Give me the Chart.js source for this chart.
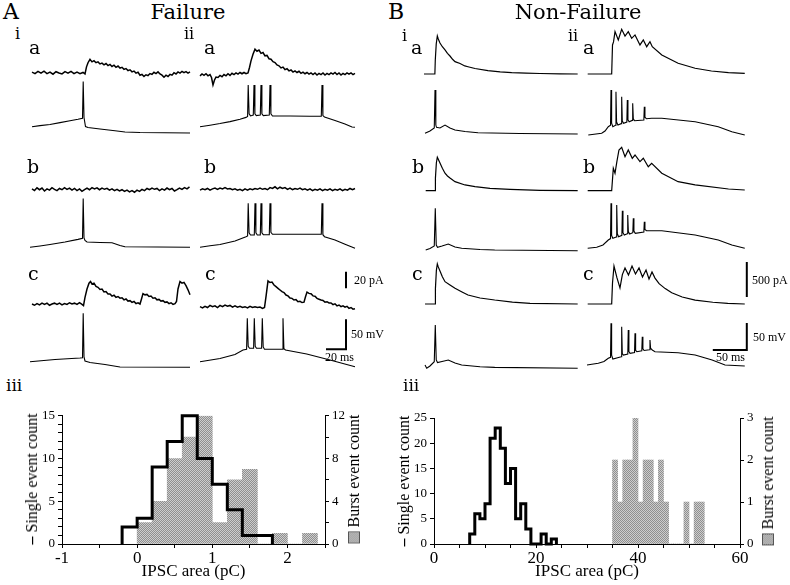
<!DOCTYPE html>
<html>
<head>
<meta charset="utf-8">
<script src="https://cdn.jsdelivr.net/npm/chart.js@4.4.1/dist/chart.umd.min.js"></script>
<style>
  html, body { margin: 0; padding: 0; background: #fff; }
  #fig { position: relative; width: 790px; height: 585px; overflow: hidden; background: #fff; }
  #fig canvas { position: absolute; }
  .lab { position: absolute; font-family: 'DejaVu Serif', serif; line-height: 1; white-space: nowrap; color: #000; }
  .sb { position: absolute; font-family: 'Liberation Serif', serif; font-size: 12px; line-height: 1; white-space: nowrap; color: #000; }
  .ytitle { position: absolute; font-family: 'Liberation Serif', serif; font-size: 16px; line-height: 1; white-space: nowrap; color: #000;
            transform: translate(-50%, -50%) rotate(-90deg); }
  .ytitle b { font-weight: bold; }
  .sq { display: inline-block; width: 10px; height: 10px; border: 1px solid #555; vertical-align: -1px; margin-right: 4px;
        background: repeating-conic-gradient(#8f8f8f 0 25%, #cdcdcd 0 50%) 0 0 / 2px 2px; }
</style>
</head>
<body>
<div id="fig"></div>
<script>
// ---- histogram data (iii) ----
const aBinWidth = 0.2;
const aSingleStart = -0.2;
const aSingleCounts = [2, 3, 9, 12, 15, 10, 7, 4, 1, 1];
const aBurstStart = 0;
const aBurstCounts = [2, 4, 8, 10, 12, 2, 6, 7, 0, 1, 0, 1];

const bBinWidth = 1;
const bSingleStart = 7;
const bSingleCounts = [2, 6, 5, 8, 21, 23, 19, 12, 15, 5, 8, 3, 0, 0, 2, 0, 1];
const bBurstStart = 35;
const bBurstCounts = [2, 1, 2, 2, 3, 1, 2, 2, 1, 2, 1, 0, 0, 0, 1, 0, 1, 1];

// ---- traces: [ms, pA] for currents, [ms, mV] for voltages ----
const aIaCur = [[2,0.6],[5,-1.2],[8,1.5],[11,-0.6],[14,1.8],[17,-1.2],[20,0.6],[23,-1.8],[26,1.2],[29,-0.3],[32,-1.5],[35,1.2],[38,-0.6],[41,1.5],[44,-1.2],[47,0.6],[50,-1.2],[53,0.3],[55,-1.5],[56.5,7],[58,12],[60,16],[62,13],[64,14.5],[66,12],[68,13],[70,10.5],[72,11.5],[74,9.5],[76,11],[78,8.5],[80,10],[82,7.5],[84,9],[86,6.5],[88,8],[90,5.5],[92,6.5],[94,4],[96,5],[98,2.5],[100,3.5],[102,1],[104,2],[106,-0.5],[108,0.5],[110,-3],[112,-2],[114,-4.5],[116,-2.5],[118,-3.5],[120,-1],[122,-2],[124,0.5],[126,-1],[128,1],[130,-1.5],[132,-3],[134,-5.5],[136,-3],[138,-4.5],[140,-2],[142,-3],[144,0],[146,-1.5],[148,1],[150,-0.5],[152,1.5],[154,0],[156,1.2],[158,-0.5],[160,1]];
const aIaV = [[2,-60.3],[10,-58.5],[20,-56.7],[30,-53.5],[40,-50.5],[48,-48],[52.5,-46.3],[53.2,15],[54,-45],[55.5,-60],[58,-61.7],[70,-64.2],[85,-67.2],[95,-69.2],[110,-70],[160,-70.8]];

const aIIaCur = [[0,-1],[2,1.2],[4,-0.5],[6,1.5],[8,-1],[10,0.5],[11.5,-3],[13,-12],[14.5,-6],[16,-2.5],[18,-3],[20,-0.5],[22,-2],[24,0.5],[26,-1],[28,1.5],[30,-0.5],[32,2],[34,0.5],[36,2.5],[38,1],[40,3],[42,1.5],[44,3],[46,1.5],[48,2.5],[49.5,9],[51,17],[53,25],[55,31],[57,28.5],[59,30],[61,26],[63,27],[65,23],[67,23.5],[69,19.5],[71,19],[73,16],[75,15],[77,12],[79,11],[81,8.5],[83,9.5],[85,6.5],[87,7.5],[89,5],[91,6],[93,3.5],[95,5],[97,3],[99,4.5],[101,2],[103,3.5],[105,1.5],[107,3],[109,1],[111,2.5],[113,0.5],[115,2.5],[117,0],[119,2],[121,0.5],[123,2.5],[125,0],[127,2],[129,0.5],[131,2.5],[133,1],[135,3],[137,0.5],[139,2.5],[141,0],[143,2],[145,0.5],[147,2.5],[149,1],[151,2.5],[153,0.5],[155,2]];
const aIIaV = [[0,-69.5],[10,-67],[20,-64.2],[30,-61],[40,-57],[46,-54],[47.6,-52.5],[48.2,0],[49.1,-48],[50.5,-51.5],[53.3,-50],[54,0],[54.9,-48],[56.3,-51],[60.3,-50],[61,0],[61.9,-48],[63.3,-51],[69.3,-50],[70,0],[70.9,-48],[72.5,-51.7],[90,-51.7],[110,-52],[121.3,-52],[122,0],[122.9,-51],[124.5,-53.3],[135,-59],[145,-65],[152,-70],[155,-70.5]];

const aIbCur = [[2,0.5],[4.5,-1.5],[7,1.8],[9.5,-0.5],[12,1.5],[14.5,-2],[17,0.5],[19.5,-1],[22,2],[24.5,0],[27,-1.5],[29.5,1],[32,-0.5],[34.5,2],[37,0],[39.5,1.5],[42,-1],[44.5,1],[47,-1.5],[49.5,0.5],[52,-2.5],[54.5,-0.5],[57,1.5],[59.5,-0.5],[62,2],[64.5,0.5],[67,1.8],[69.5,-0.5],[72,1.5],[74.5,0],[77,1.2],[79.5,-1],[82,0.5],[84.5,-1.5],[87,0],[89.5,-2],[92,-0.5],[94.5,-2.5],[97,-1],[99.5,-3],[102,-1.5],[104.5,-3.5],[107,-1],[109.5,-2.5],[112,0],[114.5,-1.5],[117,1],[119.5,-0.5],[122,1.5],[124.5,0],[127,1],[129.5,-1.5],[132,0.5],[134.5,-1],[137,1.5],[139.5,-0.5],[142,1],[144.5,-2],[147,-0.5],[149.5,1.5],[152,0],[154.5,2],[157,0.5],[159.5,3]];
const aIbV = [[0,-70.5],[10,-68.2],[20,-65.8],[35,-61.7],[48,-57.3],[52.5,-55.5],[53.2,11],[54,-55],[55,-59.2],[57,-61.7],[70,-62.5],[82,-62.8],[90,-67.5],[95,-69.5],[160,-70.5]];

const aIIbCur = [[0,-1],[2.5,0.5],[5,-0.5],[7.5,1],[10,-1],[12.5,0.5],[15,1.5],[17.5,0],[20,1.5],[22.5,0.5],[25,2],[27.5,0.5],[30,1],[32.5,-0.5],[35,0.5],[37.5,-1],[40,0],[42.5,-1.5],[45,0.5],[47.5,-1],[50,0.5],[52.5,-0.5],[55,1],[57.5,0],[60,1.5],[62.5,0],[65,1],[67.5,-0.5],[70,2],[72.5,1],[75,3],[77.5,0.5],[80,2.5],[82.5,1],[85,2],[87.5,0],[90,1.5],[92.5,-0.5],[95,1],[97.5,0],[100,1.5],[102.5,-0.5],[105,0.5],[107.5,-1],[110,0.5],[112.5,-1.5],[115,0],[117.5,-1],[120,0.5],[122.5,-1.5],[125,0],[127.5,-1],[130,0.5],[132.5,-1.5],[135,0],[137.5,-1],[140,0.5],[142.5,-1.5],[145,0],[147.5,-1],[150,1],[152.5,-0.5],[155,1]];
const aIIbV = [[0,-70],[10,-67.5],[20,-65.3],[35,-59.5],[46,-52.3],[47.6,-51],[48.2,3.3],[49.1,-46],[50.5,-49.5],[54.3,-49.5],[55,3.3],[55.9,-46],[57.3,-49.5],[60.3,-49.5],[61,3.3],[61.9,-46],[63.3,-49],[69.3,-49],[70,3.3],[70.9,-45],[72.5,-48.3],[121.3,-48.3],[122,3.3],[122.9,-49],[124.5,-52.3],[135,-58],[145,-65],[155,-71.7]];

const aIcCur = [[2,0],[4.5,-1.5],[7,0.5],[9.5,-1],[12,1],[14.5,-0.5],[17,1],[19.5,-1.5],[22,0],[24.5,1],[27,-0.5],[29.5,1],[32,-1],[34.5,0.5],[37,-0.5],[39.5,1.5],[42,0],[44.5,1],[47,-0.5],[49.5,1.5],[52,-0.5],[53.5,-2],[55,8],[57,18],[59,25],[60.5,27],[62,24],[64,25],[66,21],[68,20],[70,17.5],[72,18],[74,14.5],[76,15],[78,12],[80,12],[82,9.5],[84,10.5],[86,8],[88,9],[90,7],[92,7.5],[94,5],[96,6],[98,3.5],[100,4],[102,2],[104,3],[106,0.5],[108,1.5],[110,0],[111.5,6],[113,12.5],[115,11],[117,11.5],[119,9],[121,9.5],[123,7],[125,7.5],[127,5],[129,5.5],[131,3.5],[133,4],[135,2],[137,2.5],[139,0.5],[141,1.5],[143,-0.5],[145,0.5],[146.5,3],[148,18],[150,27],[152,25],[154,26],[156,22],[158,17],[160,11]];
const aIcV = [[0,-60.7],[25,-57],[50,-54.5],[52.5,-54],[53.2,20],[54,-52.8],[55,-59.5],[60,-62],[75,-65.3],[90,-69.5],[160,-70]];

const aIIcCur = [[0,0],[2.5,-1.5],[5,0.5],[7.5,-1],[10,1.5],[12.5,0],[15,1],[17.5,-1],[20,1.5],[22.5,0],[25,2],[27.5,0.5],[30,1.5],[32.5,-0.5],[35,1],[37.5,-0.5],[40,0.5],[42.5,-1],[45,0],[47.5,-1.5],[50,0.5],[52.5,-1],[55,0],[57.5,-1],[60,-0.5],[62.5,-2],[64.5,-1],[66,12],[68,31],[70,29],[72,29.5],[74,26],[76,24],[78,22],[80,20],[82,18],[84,17],[86,14],[88,13],[90,10.5],[92,10],[94,8],[96,8.5],[98,6],[100,6.5],[102,5],[104,5.5],[105.5,12],[107,17.5],[109,16],[111,15.5],[113,13],[115,12.5],[117,10],[119,9],[121,8],[123,7.5],[125,5.5],[127,6],[129,4.5],[131,4.5],[133,2.5],[135,3.5],[137,1],[139,2],[141,0],[143,1],[145,-0.5],[147,0.5],[149,-2],[151,-1],[153,-3],[155,-2.5]];
const aIIcV = [[0,-61.7],[20,-56.3],[35,-49.7],[43,-42.2],[46.6,-41],[47.3,10.7],[48.2,-36],[49.5,-39.3],[53.6,-39.3],[54.3,10.7],[55.2,-36],[56.5,-39.3],[61.6,-39.3],[62.3,10.7],[63.2,-37],[64.5,-41],[82.3,-41],[83,10.7],[83.9,-40],[85.5,-42.2],[106.7,-48.8],[130,-58.8],[155,-70]];

const bIaCur = [[0,0],[16,0],[16.6,200],[18,430],[19.6,543],[21,500],[23.5,443],[27,390],[30.9,343],[34.5,295],[38.2,257],[42,210],[45.6,176],[53,150],[60,115],[64.7,104],[75,79],[94,47],[112,29],[129,19],[150,12],[170.6,7],[200,3],[226,0]];
const bIaV = [[1.5,-68.7],[8.8,-64.5],[15.1,-58.9],[16.2,11.4],[17.4,-53.4],[18.4,-57.6],[23.5,-58.9],[30.9,-53.4],[38.2,-58.9],[45.6,-62.6],[60.3,-65.4],[79.4,-67.6],[141,-69.1],[226,-70]];

const bIIaCur = [[1,0],[36.3,0],[37.5,415],[39,458],[41.2,605],[46,486],[51,639],[55.9,543],[60.7,605],[65.7,510],[70.6,558],[77.9,415],[82.8,486],[87.8,390],[92.6,462],[96,390],[110,272],[134,153],[159,82],[183,43],[208,19],[232,10]];
const bIIaV = [[1.9,-70],[21.6,-66.9],[26.5,-62.6],[31.3,-54.6],[34.6,-52],[35.3,13.3],[36.2,-48],[38,-54.6],[41.9,-52],[42.6,10.1],[43.5,-46],[45.5,-51.5],[50.3,-49],[51,0.9],[51.9,-44],[53.8,-48.4],[58.6,-46],[59.3,-5.3],[60.2,-42],[62,-45.4],[66.5,-43],[67.2,-11.4],[68.1,-40],[70,-43.5],[83.6,-42.2],[84.3,-17.6],[85.2,-37],[87.5,-40],[95,-39.1],[110,-39.1],[159,-45.4],[193,-54.6],[213,-63.9],[232,-70]];

const bIbCur = [[2.5,0],[16.2,0],[16.8,180],[18.2,400],[19.6,478],[21,450],[23.5,396],[27,320],[30.9,249],[34.5,210],[38.2,182],[45.6,129],[60.3,82],[75,57],[97,34],[126.5,20],[170.6,6],[226,0]];
const bIbV = [[2.5,-69.1],[8.8,-66.3],[15.1,-61.7],[16.6,8.1],[18,-59.8],[19.9,-64.1],[26.5,-61.7],[35.7,-58],[45.6,-63.5],[55.4,-65.9],[82.4,-68.2],[104,-69.1],[226,-70.4]];

const bIIbCur = [[1,0],[36.3,0],[38.7,320],[41.2,249],[44,420],[47,582],[51,620],[55.9,486],[60.7,582],[66.6,463],[70.6,510],[77.9,415],[82.8,463],[90.1,343],[95.1,392],[110,249],[134,129],[159,82],[208,24],[232,10]];
const bIIbV = [[1,-70],[14.3,-68.2],[23.5,-63.9],[31.3,-54.6],[34.6,-52],[35.3,13.3],[36.2,-46],[38,-51.5],[43,-49],[43.7,10.1],[44.6,-43],[46.5,-48.5],[51.3,-46],[52,-0.4],[52.9,-41],[54.8,-45.4],[59.2,-43],[59.9,-8.4],[60.8,-39],[62.7,-43.5],[67.4,-41],[68.1,-14.5],[69,-38],[71,-42.3],[83.6,-40],[84.3,-20.8],[85.2,-35],[87.5,-37.4],[110,-37.4],[159,-45.4],[193,-54.6],[213,-63.9],[232,-70]];

const bIcCur = [[1.5,0],[16.2,0],[16.8,220],[18.2,480],[19.6,572],[21,530],[23.5,472],[27,390],[30.9,319],[38.2,272],[45.6,225],[55.9,172],[64.7,129],[82.4,86],[104,57],[130,28],[156,10],[226,0]];
const bIcV = [[1.5,-64],[4,-70],[8.8,-65.7],[15.1,-57.8],[16.6,10.1],[18,-54.6],[19.9,-59.3],[26.5,-57.4],[35.7,-54.6],[45.6,-60.2],[55.4,-63.9],[82.4,-67.2],[104,-68.2],[226,-70]];

const bIIcCur = [[1,0],[36.3,0],[37.5,300],[39.7,543],[44.1,372],[48.5,229],[52,420],[55.9,515],[61,415],[66.2,543],[71.3,429],[76.5,515],[81.6,386],[86.8,486],[91.2,358],[95.6,458],[100,370],[106,290],[115,220],[124.6,160],[140,100],[159,55],[185,25],[207,10],[232,0]];
const bIIcV = [[0,-68.2],[16.6,-65],[25,-61.7],[31.3,-55.8],[34.6,-54],[35.3,9],[36.2,-50],[38,-57],[50.3,-53],[51,2.7],[51.9,-47],[53.5,-49.7],[60,-48],[60.7,-3.4],[61.6,-43],[63.3,-46.5],[69.9,-45],[70.6,-9.5],[71.5,-41],[73.3,-43.5],[80.6,-42],[81.3,-15.8],[82.2,-38],[84,-41.3],[91.9,-40],[92.6,-21.9],[93.5,-37],[96,-40.4],[100,-43.5],[134,-45.4],[159,-49.7],[184,-58.9],[203,-68.2],[232,-70]];

// scale bar sizes: [ms, pA, mV]
const aScaleBar = [20, 20, 50];
const bScaleBar = [50, 500, 50];

// ---- layout ----
const fig = document.getElementById('fig');
const REST = -70;
const PX = {
  A: { ms: 1, pA: 1 / 1.2, mV: 0.6, cw: 1.5, vw: 1.1 },
  B: { ms: 0.68, pA: 0.07, mV: 0.54, cw: 1.2, vw: 1.1 }
};

const panels = [
  { set: 'A', x0: 30,  left: 27,  w: 168, top: 45,  h: 100, curBase: 72.7,  vRest: 132.5, cur: aIaCur,  volt: aIaV },
  { set: 'A', x0: 200, left: 197, w: 163, top: 45,  h: 100, curBase: 75,    vRest: 127,   cur: aIIaCur, volt: aIIaV },
  { set: 'A', x0: 30,  left: 27,  w: 168, top: 155, h: 100, curBase: 189.3, vRest: 247,   cur: aIbCur,  volt: aIbV },
  { set: 'A', x0: 200, left: 197, w: 163, top: 155, h: 100, curBase: 189.3, vRest: 247.3, cur: aIIbCur, volt: aIIbV },
  { set: 'A', x0: 30,  left: 27,  w: 168, top: 265, h: 110, curBase: 304,   vRest: 367.3, cur: aIcCur,  volt: aIcV },
  { set: 'A', x0: 200, left: 197, w: 163, top: 265, h: 110, curBase: 306.7, vRest: 366.7, cur: aIIcCur, volt: aIIcV,
    bar: { sizes: aScaleBar, t: 146, i0: 22, v0: -41 } },
  { set: 'B', x0: 424, left: 420, w: 162, top: 22,  h: 123, curBase: 74,    vRest: 134,   cur: bIaCur,  volt: bIaV },
  { set: 'B', x0: 587, left: 584, w: 170, top: 22,  h: 123, curBase: 74,    vRest: 135,   cur: bIIaCur, volt: bIIaV },
  { set: 'B', x0: 424, left: 420, w: 162, top: 145, h: 113, curBase: 190.7, vRest: 250.5, cur: bIbCur,  volt: bIbV },
  { set: 'B', x0: 587, left: 584, w: 170, top: 145, h: 113, curBase: 190.7, vRest: 248.3, cur: bIIbCur, volt: bIIbV },
  { set: 'B', x0: 424, left: 420, w: 162, top: 258, h: 117, curBase: 304,   vRest: 368.3, cur: bIcCur,  volt: bIcV },
  { set: 'B', x0: 587, left: 584, w: 170, top: 258, h: 117, curBase: 304,   vRest: 366,   cur: bIIcCur, volt: bIIcV,
    bar: { sizes: bScaleBar, t: 235, i0: 100, v0: -40.4 } }
];

function makeCanvas(left, top, w, h) {
  const cv = document.createElement('canvas');
  cv.width = w; cv.height = h;
  cv.style.left = left + 'px'; cv.style.top = top + 'px';
  cv.style.width = w + 'px'; cv.style.height = h + 'px';
  fig.appendChild(cv);
  return cv;
}

function trace(data, axis, width) {
  return {
    data: data.map(([x, y]) => ({ x, y })),
    yAxisID: axis, borderColor: '#000', borderWidth: width,
    pointRadius: 0, tension: 0, fill: false, clip: false
  };
}

function addPanel(p) {
  const s = PX[p.set];
  const cv = makeCanvas(p.left, p.top, p.w, p.h);
  const datasets = [trace(p.cur, 'yI', s.cw), trace(p.volt, 'yV', s.vw)];
  if (p.bar) {
    const [ms, pA, mV] = p.bar.sizes;
    datasets.push(trace([[p.bar.t, p.bar.i0], [p.bar.t, p.bar.i0 + pA]], 'yI', 2));
    datasets.push(trace([[p.bar.t - ms, p.bar.v0], [p.bar.t, p.bar.v0], [p.bar.t, p.bar.v0 + mV]], 'yV', 2));
  }
  new Chart(cv, {
    type: 'line',
    data: { datasets },
    options: {
      responsive: false, animation: false, events: [],
      layout: { padding: 0 },
      plugins: { legend: { display: false }, tooltip: { enabled: false } },
      scales: {
        x: { type: 'linear', display: false,
             min: (p.left - p.x0) / s.ms, max: (p.left + p.w - p.x0) / s.ms },
        yI: { type: 'linear', axis: 'y', display: false,
              min: -(p.top + p.h - p.curBase) / s.pA, max: (p.curBase - p.top) / s.pA },
        yV: { type: 'linear', axis: 'y', display: false,
              min: REST - (p.top + p.h - p.vRest) / s.mV, max: REST + (p.vRest - p.top) / s.mV }
      }
    }
  });
}
panels.forEach(addPanel);

// ---- histograms ----
function halftone() {
  const c = document.createElement('canvas');
  c.width = 2; c.height = 2;
  const g = c.getContext('2d');
  g.fillStyle = '#cdcdcd'; g.fillRect(0, 0, 2, 2);
  g.fillStyle = '#8f8f8f'; g.fillRect(0, 0, 1, 1); g.fillRect(1, 1, 1, 1);
  return g.createPattern(c, 'repeat');
}
const grey = halftone();
const SERIF = "'Liberation Serif', 'Times New Roman', serif";
const tickFont = { family: SERIF, size: 13 };
const xFont = { family: SERIF, size: 17 };

function addHist(h) {
  const cv = makeCanvas(h.left, h.top, h.w, h.h);
  const bars = h.burst.map((c, i) => ({ x: h.burstStart + (i + 0.5) * h.bin, y: c }));
  const steps = [{ x: h.singleStart, y: 0 }];
  h.single.forEach((c, i) => steps.push({ x: h.singleStart + i * h.bin, y: c }));
  steps.push({ x: h.singleStart + h.single.length * h.bin, y: 0 });
  const axisBits = { grid: { drawOnChartArea: false, color: '#000', tickLength: 4, offset: false },
                     border: { color: '#000', width: 1 } };
  new Chart(cv, {
    type: 'bar',
    data: { datasets: [
      { type: 'line', data: steps, yAxisID: 'y', stepped: true, borderColor: '#000', borderWidth: 3,
        pointRadius: 0, fill: false, order: 0, borderJoinStyle: 'miter', clip: 3 },
      { type: 'bar', data: bars, yAxisID: 'y1', backgroundColor: grey, borderWidth: 0,
        barPercentage: 1, categoryPercentage: 1, order: 1 }
    ] },
    options: {
      responsive: false, animation: false, events: [],
      layout: { padding: { top: h.padTop, left: 0, right: 0, bottom: 0 } },
      plugins: { legend: { display: false }, tooltip: { enabled: false } },
      scales: {
        x: { type: 'linear', min: h.xMin, max: h.xMax, offset: false, ...axisBits,
             ticks: { stepSize: h.xStep, autoSkip: false, maxRotation: 0, padding: 0, color: '#000', font: xFont,
                      callback: v => (Math.abs(v % h.xLabelEvery) < 1e-9 ? String(v) : '') },
             title: { display: true, text: 'IPSC area (pC)', color: '#000', font: xFont, padding: { top: 0, bottom: 3 } },
             afterFit: s => { s.height = h.xAxisH; } },
        y: { type: 'linear', position: 'left', min: 0, max: h.yMax, ...axisBits,
             ticks: { stepSize: h.yStep, autoSkip: false, color: '#000', font: tickFont, padding: 3,
                      callback: v => (v % h.yLabelEvery === 0 ? String(v) : '') },
             afterFit: s => { s.width = h.leftW; } },
        y1: { type: 'linear', position: 'right', min: 0, max: h.y1Max, ...axisBits,
              ticks: { stepSize: h.y1Step, autoSkip: false, color: '#000', font: tickFont, padding: 3,
                       callback: v => (v % h.y1LabelEvery === 0 ? String(v) : '') },
              afterFit: s => { s.width = h.rightW; } }
      }
    }
  });
}

addHist({ left: 0, top: 405, w: 390, h: 180, padTop: 10, leftW: 62, rightW: 65, xAxisH: 41,
  xMin: -1, xMax: 2.5, xStep: 0.5, xLabelEvery: 1,
  yMax: 15, yStep: 1, yLabelEvery: 5, y1Max: 12, y1Step: 2, y1LabelEvery: 4,
  bin: aBinWidth, singleStart: aSingleStart, single: aSingleCounts, burstStart: aBurstStart, burst: aBurstCounts });

addHist({ left: 395, top: 405, w: 395, h: 180, padTop: 13, leftW: 39, rightW: 50, xAxisH: 41,
  xMin: 0, xMax: 60, xStep: 5, xLabelEvery: 20,
  yMax: 25, yStep: 5, yLabelEvery: 5, y1Max: 3, y1Step: 1, y1LabelEvery: 1,
  bin: bBinWidth, singleStart: bSingleStart, single: bSingleCounts, burstStart: bBurstStart, burst: bBurstCounts });

// ---- text ----
function label(text, x, base, size, center) {
  const d = document.createElement('div');
  d.className = 'lab';
  d.textContent = text;
  d.style.fontSize = size + 'px';
  d.style.left = x + 'px';
  d.style.top = (base - 0.846 * size) + 'px';
  if (center) d.style.transform = 'translateX(-50%)';
  fig.appendChild(d);
}
[
  ['A', 3, 20, 22], ['Failure', 188, 20, 21, true], ['B', 388, 20, 22], ['Non-Failure', 578, 20, 21, true],
  ['i', 15, 40, 16], ['a', 29, 54, 19], ['ii', 184, 40, 16], ['a', 204, 54, 19],
  ['i', 402, 42, 16], ['a', 411, 54, 19], ['ii', 568, 42, 16], ['a', 583, 54, 19],
  ['b', 27, 173, 19], ['b', 204, 173, 19], ['b', 412, 173, 19], ['b', 583, 173, 19],
  ['c', 28, 280, 19], ['c', 205, 280, 19], ['c', 412, 280, 19], ['c', 583, 280, 19],
  ['iii', 6, 391, 17], ['iii', 403, 391, 17]
].forEach(a => label(...a));

function sbLabel(text, x, base) {
  const d = document.createElement('div');
  d.className = 'sb';
  d.textContent = text;
  d.style.left = x + 'px';
  d.style.top = (base - 0.8375 * 12) + 'px';
  fig.appendChild(d);
}
[['20 pA', 354, 284], ['50 mV', 351, 338], ['20 ms', 325, 361],
 ['500 pA', 752, 284], ['50 mV', 753, 341], ['50 ms', 716, 361]].forEach(a => sbLabel(...a));

function yTitle(html, cx, cy) {
  const d = document.createElement('div');
  d.className = 'ytitle';
  d.innerHTML = html;
  d.style.left = cx + 'px';
  d.style.top = cy + 'px';
  fig.appendChild(d);
}
yTitle('<b>–</b> Single event count', 32, 479);
yTitle('<span class="sq"></span>Burst event count', 354, 479);
yTitle('<b>–</b> Single event count', 404, 481);
yTitle('<span class="sq"></span>Burst event count', 768, 481);
</script>
</body>
</html>
